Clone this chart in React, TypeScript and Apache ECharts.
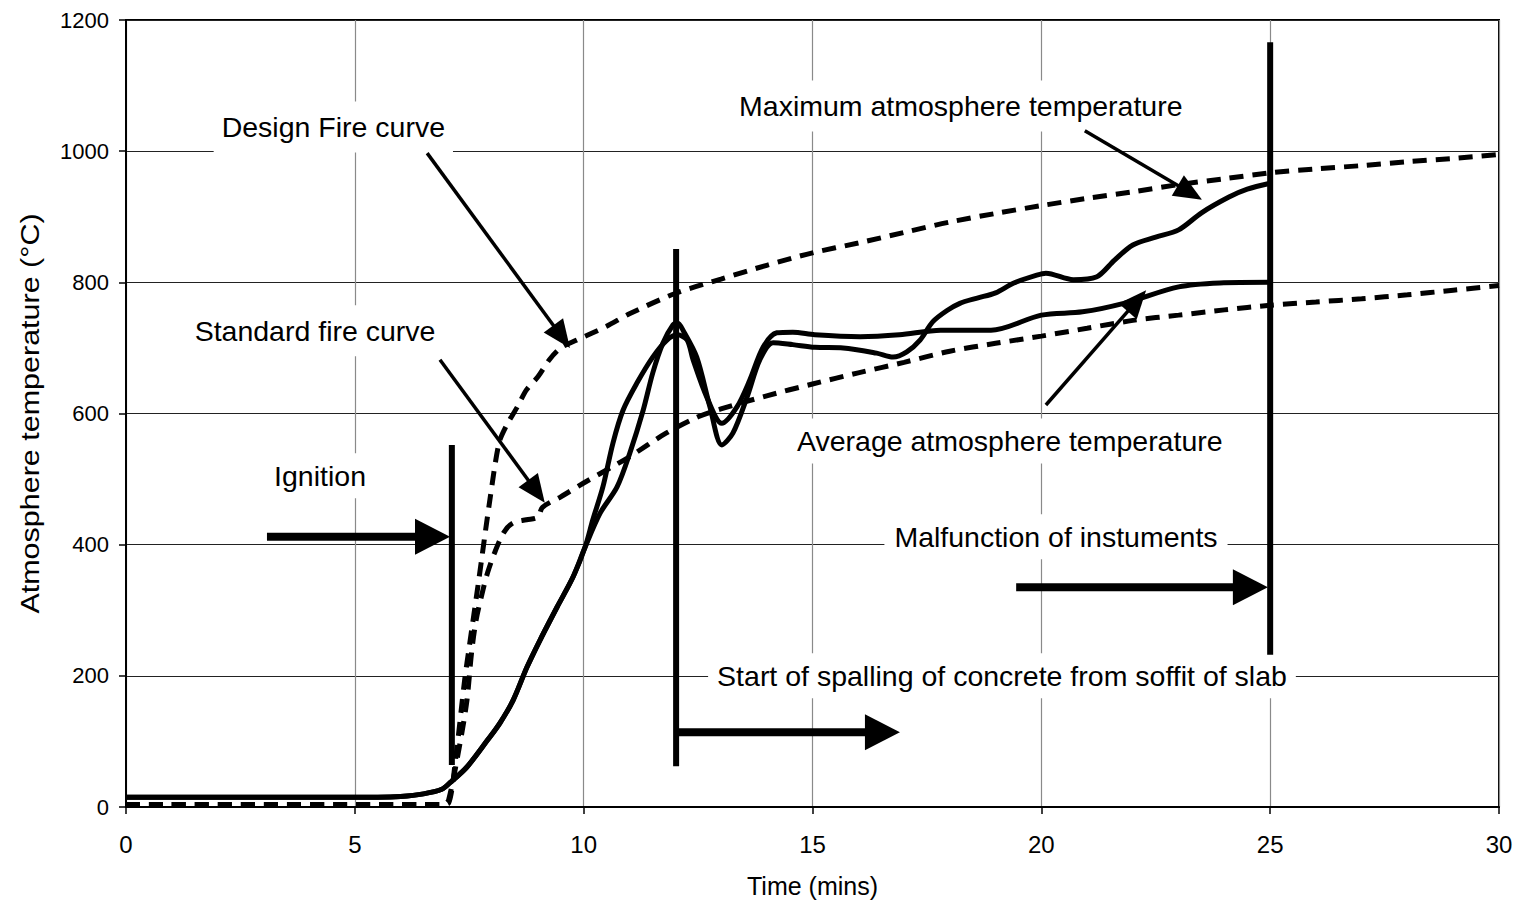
import React, { useEffect, useRef } from "react";
import * as echarts from "echarts";

// ---------- data (time in minutes, temperature in °C) ----------
const designTime = [0, 6.9, 7.05, 7.2, 7.4, 7.5, 7.7, 7.95, 8.15, 8.3, 8.55, 8.75, 9.0, 9.25, 9.5, 9.85, 10.5, 11, 12, 13, 14, 15, 16, 17, 18, 19, 20, 21, 22, 23, 24, 25, 26, 27, 28, 29, 30];
const designTemp = [4, 4, 6, 72, 194, 244, 342, 468, 555, 580, 610, 636, 656, 682, 700, 712, 733, 752, 783, 805, 826, 845, 860, 876, 892, 905, 917, 928, 938, 949, 958, 967, 973, 978, 984, 989, 995];

const standardTime = [0, 6.95, 7.05, 7.3, 7.45, 7.55, 7.65, 7.8, 7.9, 8.05, 8.25, 8.45, 8.75, 9.0, 9.1, 9.5, 10, 11, 11.8, 12.5, 13, 14, 15, 16, 17, 18, 19, 20, 21, 22, 23, 24, 25, 26, 27, 28, 29, 30];
const standardTemp = [4, 4, 11, 98, 163, 235, 285, 331, 357, 387, 418, 433, 438, 442, 457, 473, 494, 534, 570, 595, 607, 627, 645, 662, 678, 695, 707, 718, 730, 742, 750, 758, 765, 770, 775, 781, 788, 795];

const maxTime = [0, 5.5, 6.0, 6.5, 6.9, 7.08, 7.45, 7.9, 8.17, 8.46, 8.76, 9.05, 9.42, 9.77, 10.03, 10.36, 10.73, 11.01, 11.3, 11.51, 11.73, 11.95, 12.05, 12.17, 12.47, 12.76, 13.02, 13.26, 13.57, 13.85, 14.14, 14.57, 15.05, 15.67, 16.4, 16.76, 17.06, 17.35, 17.63, 17.94, 18.22, 18.6, 19.0, 19.4, 19.9, 20.1, 20.7, 21.2, 21.6, 22.0, 22.5, 23.0, 23.5, 24.1, 24.5, 25.0];
const maxTemp = [15, 15, 16, 20, 27, 37, 61, 102, 128, 163, 213, 255, 305, 351, 396, 448, 488, 540, 605, 662, 707, 735, 738, 727, 686, 610, 552, 570, 625, 682, 708, 705, 701, 700, 692, 686, 694, 712, 740, 757, 768, 776, 784, 799, 811, 814, 804, 808, 834, 857, 869, 880, 906, 930, 942, 951];

const avgTime = [0, 5.5, 6.0, 6.5, 6.9, 7.08, 7.45, 7.9, 8.17, 8.46, 8.76, 9.05, 9.42, 9.77, 10.03, 10.2, 10.42, 10.64, 10.86, 11.16, 11.51, 11.82, 12.05, 12.26, 12.39, 12.69, 13.02, 13.35, 13.63, 13.92, 14.22, 14.57, 15.05, 16.04, 16.9, 17.8, 18.9, 20.0, 20.9, 21.8, 23.0, 23.9, 25.0];
const avgTemp = [15, 15, 16, 20, 27, 37, 61, 102, 128, 163, 213, 255, 305, 351, 396, 438, 488, 555, 605, 646, 686, 712, 720, 712, 682, 625, 585, 610, 651, 701, 723, 724, 720, 717, 720, 727, 727, 750, 755, 768, 793, 799, 800];

const xTickValues = [0, 5, 10, 15, 20, 25, 30];
const yTickValues = [0, 200, 400, 600, 800, 1000, 1200];

const labelTexts = {
  design: "Design Fire curve",
  standard: "Standard fire curve",
  ignition: "Ignition",
  spalling: "Start of spalling of concrete from soffit of slab",
  malfunction: "Malfunction of instuments",
  maximum: "Maximum atmosphere temperature",
  average: "Average atmosphere temperature",
};

const FONT = '"Liberation Sans", Arial, Helvetica, sans-serif';

const zip = (a: number[], b: number[]) => a.map((v, i) => [v, b[i]]);

function arrow(from: number[], to: number[], shaftW: number, headL: number, headW: number, z: number) {
  const dx = to[0] - from[0];
  const dy = to[1] - from[1];
  const len = Math.hypot(dx, dy);
  const ux = dx / len, uy = dy / len;
  const nx = -uy, ny = ux;
  const bx = to[0] - ux * headL, by = to[1] - uy * headL;
  return [
    { type: "line", z, shape: { x1: from[0], y1: from[1], x2: bx + ux * 2, y2: by + uy * 2 }, style: { stroke: "#000", lineWidth: shaftW, lineCap: "butt" } },
    { type: "polygon", z, shape: { points: [[to[0], to[1]], [bx + (nx * headW) / 2, by + (ny * headW) / 2], [bx - (nx * headW) / 2, by - (ny * headW) / 2]] }, style: { fill: "#000" } },
  ];
}

function label(pos: number[], text: string, padding: number[], z: number) {
  return {
    type: "text",
    z,
    x: pos[0],
    y: pos[1],
    style: {
      text,
      font: `28.5px ${FONT}`,
      fill: "#000",
      align: "center",
      textAlign: "center",
      verticalAlign: "middle",
      textVerticalAlign: "middle",
      backgroundColor: "#fff",
      padding,
    },
  };
}

export default function App() {
  const ref = useRef<HTMLDivElement>(null);
  useEffect(() => {
    const chart = echarts.init(ref.current!, null, { renderer: "svg" });
    const dashed = { color: "#000", width: 5, type: [14, 9], cap: "butt" };
    chart.setOption({
      animation: false,
      backgroundColor: "#fff",
      grid: { left: 126, right: 22, top: 20, bottom: 97, show: true, borderColor: "#000", borderWidth: 2, backgroundColor: "transparent" },
      xAxis: {
        type: "value",
        min: 0,
        max: 30,
        interval: 5,
        name: "Time (mins)",
        nameLocation: "middle",
        nameGap: 66,
        nameTextStyle: { color: "#000", fontFamily: FONT, fontSize: 25 },
        axisLine: { lineStyle: { color: "#000", width: 2 } },
        axisTick: { show: true, inside: false, length: 7, lineStyle: { color: "#000", width: 1.5 } },
        axisLabel: { color: "#000", fontFamily: FONT, fontSize: 24, margin: 25, formatter: (v: number) => (xTickValues.includes(v) ? String(v) : "") },
        splitLine: { show: true, lineStyle: { color: "#8a8a8a", width: 1.2 } },
      },
      yAxis: {
        type: "value",
        min: 0,
        max: 1200,
        interval: 200,
        axisLine: { show: true, lineStyle: { color: "#000", width: 2 } },
        axisTick: { show: true, inside: false, length: 7, lineStyle: { color: "#000", width: 1.5 } },
        axisLabel: { color: "#000", fontFamily: FONT, fontSize: 22, margin: 17, formatter: (v: number) => (yTickValues.includes(v) ? String(v) : "") },
        splitLine: { show: true, lineStyle: { color: "#222", width: 1.2 } },
      },
      series: [
        { name: "Design Fire curve", type: "line", data: zip(designTime, designTemp), symbol: "none", smooth: 0.3, lineStyle: dashed, z: 3 },
        { name: "Standard fire curve", type: "line", data: zip(standardTime, standardTemp), symbol: "none", smooth: 0.3, lineStyle: dashed, z: 3 },
        { name: "Maximum atmosphere temperature", type: "line", data: zip(maxTime, maxTemp), symbol: "none", smooth: 0.3, lineStyle: { color: "#000", width: 5 }, z: 4 },
        { name: "Average atmosphere temperature", type: "line", data: zip(avgTime, avgTemp), symbol: "none", smooth: 0.3, lineStyle: { color: "#000", width: 5 }, z: 4 },
      ],
    });

    const p = (t: number, T: number) => chart.convertToPixel({ xAxisIndex: 0, yAxisIndex: 0 }, [t, T]) as number[];
    const vline = (t: number, T1: number, T2: number) => {
      const a = p(t, T1), b = p(t, T2);
      return { type: "line", z: 5, shape: { x1: a[0], y1: a[1], x2: b[0], y2: b[1] }, style: { stroke: "#000", lineWidth: 6, lineCap: "butt" } };
    };
    const mid = p(0, 600);

    const elements: any[] = [
      // y-axis title (taller than wide, as in the original)
      {
        type: "text",
        z: 2,
        x: 30,
        y: mid[1],
        rotation: Math.PI / 2,
        scaleX: 1.22,
        scaleY: 1,
        style: { text: "Atmosphere temperature (°C)", font: `25px ${FONT}`, fill: "#000", align: "center", textAlign: "center", verticalAlign: "middle", textVerticalAlign: "middle" },
      },
      // event markers
      vline(7.12, 552, 64),
      ...arrow(p(3.08, 412), p(7.08, 412), 8, 35, 36, 5),
      vline(12.02, 851, 62),
      ...arrow(p(12.02, 114), p(16.91, 114), 8, 35, 36, 5),
      vline(25.0, 1166, 232),
      ...arrow(p(19.45, 335), p(24.95, 335), 8, 35, 36, 5),
      // curve pointers
      ...arrow(p(6.58, 997), p(9.7, 700), 3.5, 28, 24, 5),
      ...arrow(p(6.86, 682), p(9.15, 464), 3.5, 28, 24, 5),
      ...arrow(p(20.95, 1031), p(23.51, 926), 3.5, 28, 24, 5),
      ...arrow(p(20.1, 613), p(22.29, 788), 3.5, 28, 24, 5),
      // labels
      label(p(4.53, 1037), labelTexts.design, [11, 8], 2),
      label(p(4.13, 726), labelTexts.standard, [11, 8], 2),
      label(p(4.24, 505), labelTexts.ignition, [8, 8], 2),
      label(p(19.14, 200), labelTexts.spalling, [8, 9], 2),
      label(p(20.32, 412), labelTexts.malfunction, [8, 10], 2),
      label(p(18.24, 1069), labelTexts.maximum, [11, 10], 2),
      label(p(19.31, 558), labelTexts.average, [8, 10], 2),
    ];
    chart.setOption({ graphic: { elements } });

    return () => chart.dispose();
  }, []);
  return <div ref={ref} style={{ position: "fixed", left: 0, top: 0, width: 1521, height: 904, background: "#fff" }} />;
}
